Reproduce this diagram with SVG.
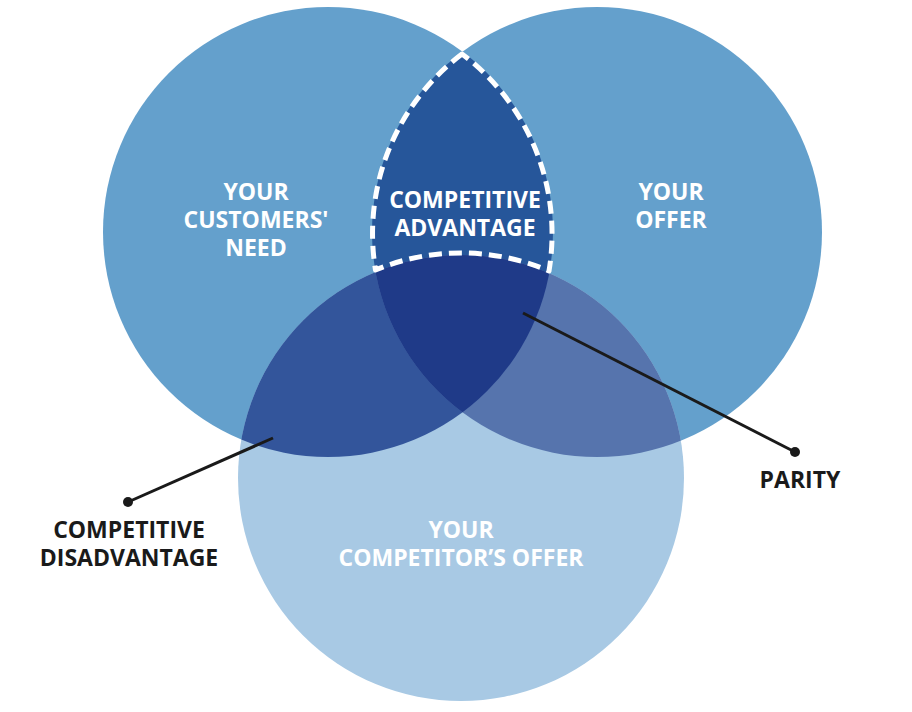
<svg xmlns="http://www.w3.org/2000/svg" width="912" height="712" viewBox="0 0 912 712">
<style>
.wt{font-family:"Open Sans","Liberation Sans",sans-serif;font-weight:700;font-size:23px;fill:#ffffff;text-anchor:middle}
.bt{font-family:"Open Sans","Liberation Sans",sans-serif;font-weight:700;font-size:23px;fill:#1a1a1a;text-anchor:middle}
.lead{stroke:#1a1a1a;stroke-width:3;fill:none}
</style>
<defs>
<clipPath id="cL"><circle cx="328" cy="232" r="225"/></clipPath>
<clipPath id="cR"><circle cx="597" cy="232" r="225"/></clipPath>
<clipPath id="cB"><circle cx="461" cy="478" r="223"/></clipPath>
</defs>
<rect width="912" height="712" fill="#ffffff"/>
<g id="customers-need">
<circle cx="328" cy="232" r="225" fill="#64a0cc"/>
</g>
<g id="your-offer">
<circle cx="597" cy="232" r="225" fill="#64a0cc"/>
</g>
<g id="competitor-offer">
<circle cx="461" cy="478" r="223" fill="#a8c9e4"/>
</g>
<g id="overlaps">
<g clip-path="url(#cL)"><circle cx="597" cy="232" r="225" fill="#26569a"/></g>
<g clip-path="url(#cL)"><circle cx="461" cy="478" r="223" fill="#33559b"/></g>
<g clip-path="url(#cR)"><circle cx="461" cy="478" r="223" fill="#5674ad"/></g>
<g clip-path="url(#cL)"><g clip-path="url(#cR)"><circle cx="461" cy="478" r="223" fill="#1f3a88"/></g></g>
</g>
<g id="competitive-advantage">
<path d="M462,54 A225,225 0 0 0 375.5,270 A223,223 0 0 1 549,271 A225,225 0 0 0 462,54 Z" fill="none" stroke="#ffffff" stroke-width="5" stroke-dasharray="13 7" stroke-linejoin="round"/>
<text class="wt" x="465" y="208">COMPETITIVE</text>
<text class="wt" x="465" y="236">ADVANTAGE</text>
</g>
<g id="labels">
<text class="wt" x="256" y="200">YOUR</text>
<text class="wt" x="256" y="228">CUSTOMERS'</text>
<text class="wt" x="256" y="256">NEED</text>
<text class="wt" x="671" y="200">YOUR</text>
<text class="wt" x="671" y="228">OFFER</text>
<text class="wt" x="461" y="538">YOUR</text>
<text class="wt" x="461" y="566">COMPETITOR’S OFFER</text>
</g>
<g id="connectors">
<line class="lead" x1="273" y1="438" x2="128" y2="502"/>
<circle cx="128" cy="502" r="5" fill="#1a1a1a"/>
<line class="lead" x1="523" y1="313" x2="795" y2="452"/>
<circle cx="795" cy="452" r="5" fill="#1a1a1a"/>
</g>
<g id="competitive-disadvantage">
<text class="bt" x="129" y="538">COMPETITIVE</text>
<text class="bt" x="129" y="566">DISADVANTAGE</text>
</g>
<g id="parity">
<text class="bt" x="800" y="488">PARITY</text>
</g>
</svg>
